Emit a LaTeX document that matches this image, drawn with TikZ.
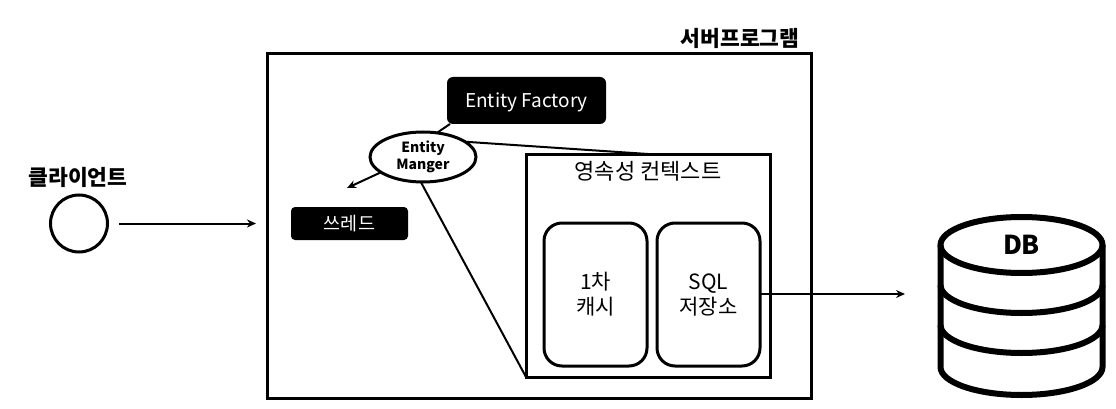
\documentclass[tikz,border=0pt]{standalone}
\usepackage{fontspec}
\setmainfont{Noto Sans CJK KR}
\usetikzlibrary{shapes.geometric,arrows.meta,positioning}
\tikzset{
  frmbox/.style={rectangle,draw=black,line width=3pt,fill=white,outer sep=0pt,inner sep=0pt},
  blkbox/.style={rectangle,rounded corners=6pt,fill=black,text=white,outer sep=0pt,inner sep=0pt,align=center},
  membox/.style={rectangle,rounded corners=18pt,draw=black,line width=3pt,fill=white,
    minimum width=103pt,minimum height=143pt,outer sep=0pt,inner sep=0pt,align=center,
    font=\fontsize{21}{25}\selectfont},
  lbl/.style={inner sep=0pt,align=center,font=\fontsize{22}{26}\selectfont},
  hdlbl/.style={lbl,font=\fontsize{21.5}{26}\selectfont\bfseries},
  arr/.style={-{Stealth[length=9pt,width=8pt]},line width=2pt,color=black},
  lnk/.style={line width=2pt,color=black},
  dbln/.style={line width=6pt,color=black},
}
\begin{document}
\begin{tikzpicture}[x=1pt,y=-1pt]
  \useasboundingbox (0,0) rectangle (1116,409);

  \node[frmbox,minimum width=544pt,minimum height=344pt] (server) at (539,226) {};
  \node[hdlbl] (serverlbl) at (740,38) {서버프로그램};
  \node[blkbox,minimum width=159pt,minimum height=47pt,text height=18pt,text depth=4pt,
    font=\fontsize{19}{24}\selectfont] (factory) at (526.5,100.5) {Entity Factory};
  \node[frmbox,minimum width=244pt,minimum height=223pt] (context) at (648,265.5) {};
  \node[lbl] (contextlbl) at (648,171) {영속성 컨텍스트};
  \node[membox] (cache) at (595.5,294.5) {1차\\캐시};
  \node[membox,right=10pt of cache] (sqlstore) {SQL\\저장소};
  \node[ellipse,draw=black,line width=3pt,fill=white,minimum width=106pt,minimum height=50pt,
    outer sep=0pt,inner sep=0pt,align=center,font=\fontsize{14}{17}\selectfont\bfseries] (manager) at (423,157) {Entity\\Manger};
  \node[blkbox,rounded corners=4pt,minimum width=117pt,minimum height=33pt,font=\fontsize{18.5}{22}\selectfont] (thread) at (349.5,223.5) {쓰레드};

  \node[hdlbl] (clientlbl) at (78,177) {클라이언트};
  \node[circle,draw=black,line width=3pt,minimum size=57pt,outer sep=0pt,inner sep=0pt] (client) at (79,223.5) {};

  \node[ellipse,draw=black,line width=6pt,minimum width=162pt,minimum height=56pt,outer sep=0pt,
    inner sep=0pt,font=\fontsize{26}{30}\selectfont\bfseries] (db) at (1021.5,245) {DB};
  \draw[dbln] (db.west) -- ++(0,122) arc (180:360:81pt and 28pt) -- (db.east);
  \foreach \d in {40,80}
    \draw[dbln] ([yshift=-\d pt]db.west) arc (180:360:81pt and 28pt);

  \coordinate (threadtip) at (347,188);
  \coordinate (dbtip) at (905,294);

  \draw[lnk] ([xshift=3pt]factory.south west)--(manager.60);
  \draw[lnk] (manager.20)--(context.north);
  \draw[lnk] (manager.-95)--(context.south west);
  \draw[arr] (manager.200)--(threadtip);
  \draw[arr,shorten <=11.5pt,shorten >=11pt] (client.east)--(client.east-|server.west);
  \draw[arr] (sqlstore.east|-dbtip)--(dbtip);
\end{tikzpicture}
\end{document}
